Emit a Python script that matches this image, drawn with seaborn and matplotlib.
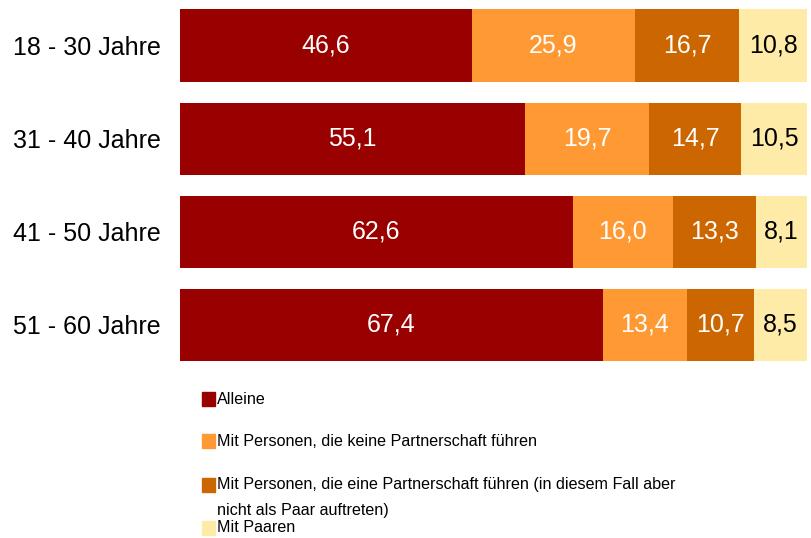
import numpy as np
import pandas as pd
import matplotlib.pyplot as plt
import seaborn as sns
from matplotlib.patches import Rectangle

# data (percent)
groups = ['18 - 30 Jahre', '31 - 40 Jahre', '41 - 50 Jahre', '51 - 60 Jahre']
alleine = [46.6, 55.1, 62.6, 67.4]
keine_partnerschaft = [25.9, 19.7, 16.0, 13.4]
eine_partnerschaft = [16.7, 14.7, 13.3, 10.7]
paare = [10.8, 10.5, 8.1, 8.5]

series_names = ['Alleine',
                'Mit Personen, die keine Partnerschaft führen',
                'Mit Personen, die eine Partnerschaft führen (in diesem Fall aber\nnicht als Paar auftreten)',
                'Mit Paaren']
colors = ['#990000', '#FF9933', '#CC6600', '#FFEBA8']
text_colors = ['white', 'white', 'white', 'black']

sns.set_style('white')
plt.rcParams['font.family'] = ['Liberation Sans', 'DejaVu Sans']
plt.rcParams['text.color'] = 'black'
plt.rcParams['ytick.color'] = 'black'

df = pd.DataFrame({'group': groups, 's0': alleine, 's1': keine_partnerschaft,
                   's2': eine_partnerschaft, 's3': paare})
cols = ['s0', 's1', 's2', 's3']
cum = df[cols].cumsum(axis=1)

fig = plt.figure(figsize=(8.12, 5.38), dpi=100)
ax = fig.add_axes([180 / 812, 166 / 538, 627 / 812, 372 / 538])

# stacked bars: draw cumulative totals from the widest to the narrowest
for i in reversed(range(4)):
    sns.barplot(x=cum[cols[i]], y=df['group'], order=groups, orient='h',
                color=colors[i], saturation=1, width=0.775, linewidth=0,
                edgecolor='none', ax=ax)

# value labels in the middle of each segment
for i, c in enumerate(cols):
    for j in range(len(groups)):
        v = df[c][j]
        mid = cum[c][j] - v / 2
        ax.text(mid, j, f'{v:.1f}'.replace('.', ','), ha='center', va='center',
                color=text_colors[i], fontsize=18)

ax.set_xlim(0, 100)
ax.set_ylim(3.505, -0.489)
ax.set_xlabel('')
ax.set_ylabel('')
ax.set_xticks([])
ax.tick_params(axis='y', length=0, pad=14, labelsize=18, labelcolor='black')
sns.despine(ax=ax, left=True, bottom=True)

# legend, laid out like the original (irregular spacing)
rows = [399, 441, 485, 528]
for i, name in enumerate(series_names):
    y = rows[i]
    fig.patches.append(Rectangle((202 / 812, 1 - (y + 7) / 538), 13 / 812, 14 / 538,
                                 transform=fig.transFigure, color=colors[i]))
    for k, line in enumerate(name.split('\n')):
        fig.text(217 / 812, 1 - (y + 25 * k) / 538, line, va='center', ha='left',
                 fontsize=11.6, color='black')

fig.savefig('out.png', dpi=100)
